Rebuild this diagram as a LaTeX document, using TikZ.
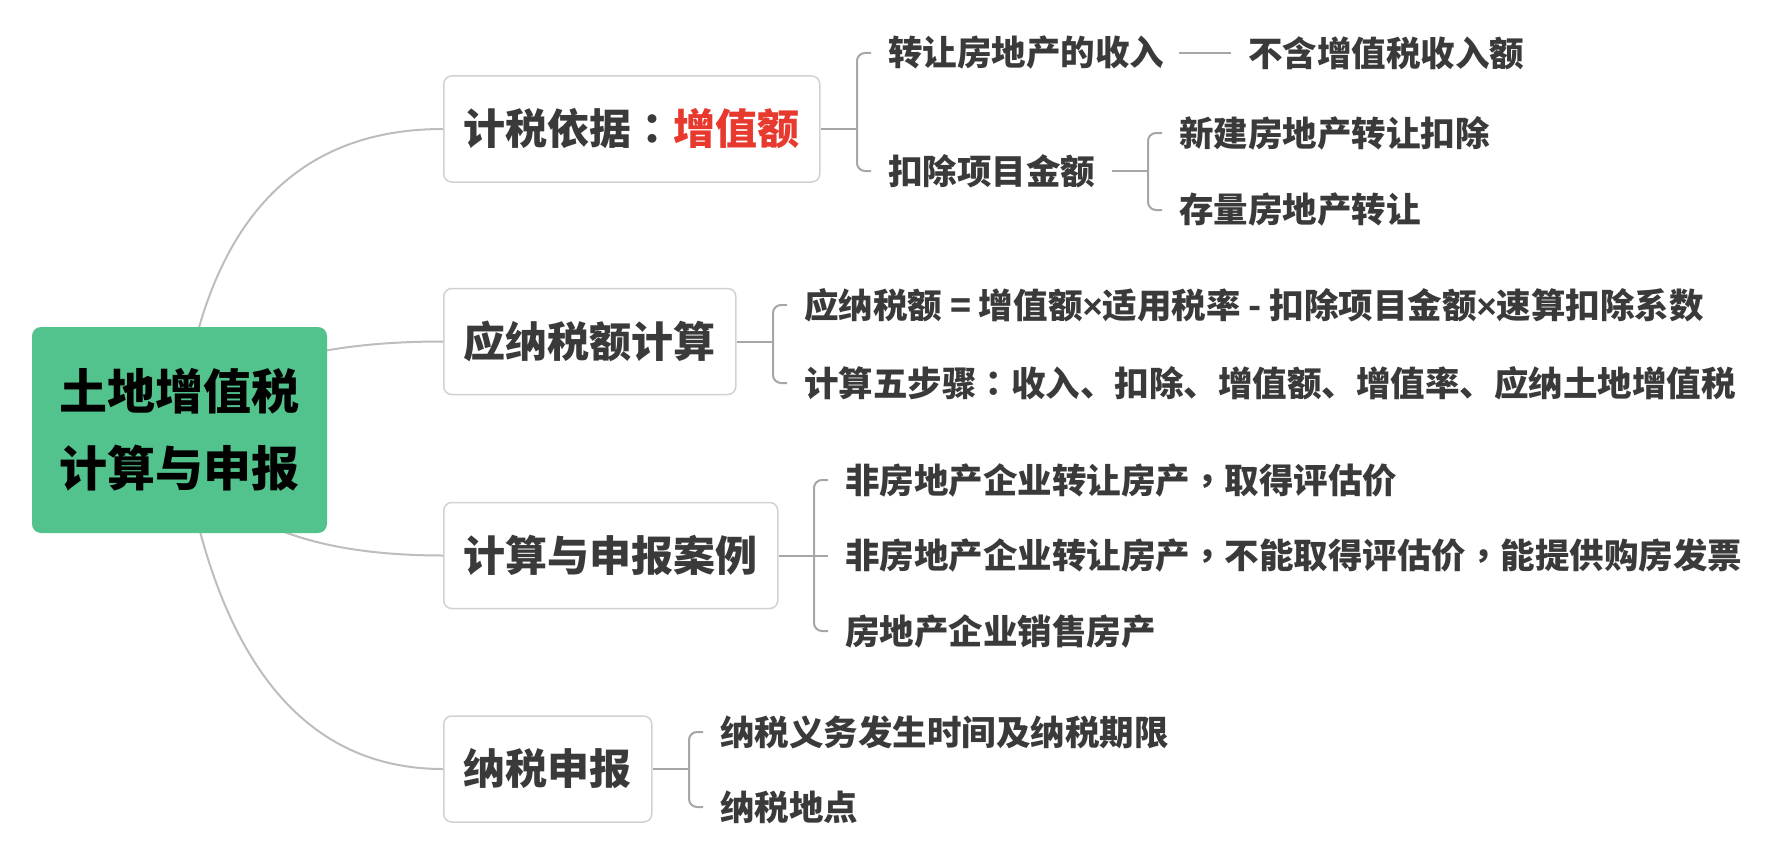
\documentclass[tikz,border=0pt]{standalone}
\usepackage{fontspec}
\setmainfont{Noto Sans CJK SC}
\newfontfamily\tcfont{Noto Sans CJK TC}
\newfontfamily\latinfont{Liberation Sans}
\newcommand{\cpunct}[1]{{\tcfont #1}}
\newcommand{\mtimes}{{\latinfont ×}}
\usetikzlibrary{calc}
\definecolor{rootgreen}{HTML}{52C38C}
\definecolor{txt}{HTML}{3A3A3A}
\definecolor{redt}{HTML}{E8392E}
\definecolor{boxline}{HTML}{D2D2D2}
\definecolor{curveline}{HTML}{BDBDBD}
\definecolor{brline}{HTML}{A6A6A6}
\pgfdeclarelayer{bg}
\pgfsetlayers{bg,main}
\begin{document}
\begin{tikzpicture}[x=1pt,y=-1pt,
  rootbox/.style={fill=rootgreen, rounded corners=9pt, minimum width=295pt, minimum height=206pt, align=center, font=\fontsize{48}{77}\selectfont\bfseries, text=black, inner sep=0pt},
  topic/.style={draw=boxline, line width=1.5pt, fill=white, rounded corners=8pt, anchor=west, minimum height=106pt, inner xsep=20pt, inner ysep=0pt, font=\fontsize{42}{50}\selectfont\bfseries, text=txt},
  leaf/.style={anchor=west, inner sep=0pt, font=\fontsize{34.5}{40}\selectfont\bfseries, text=txt},
  curve/.style={draw=curveline, line width=2pt},
  brk/.style={draw=brline, line width=2pt, rounded corners=8pt},
]
\useasboundingbox (0,0) rectangle (1786,859);

\node[rootbox] (root) at (179.5,430) {土地增值税\\计算与申报};

\node[topic] (b1) at (443,129) {计税依据\cpunct{：}\textcolor{redt}{增值额}};
\node[topic] (b2) at (443,341.5) {应纳税额计算};
\node[topic] (b3) at (443,555.5) {计算与申报案例};
\node[topic] (b4) at (443,769) {纳税申报};

\node[leaf] (t11) at (888,53) {转让房地产的收入};
\node[leaf] (t111) at (1248,53) {不含增值税收入额};
\node[leaf] (t12) at (888,171) {扣除项目金额};
\node[leaf] (t121) at (1179,133) {新建房地产转让扣除};
\node[leaf] (t122) at (1179,210) {存量房地产转让};

\node[leaf] (t21) at (804,305) {应纳税额 = 增值额\mtimes 适用税率 - 扣除项目金额\mtimes 速算扣除系数};
\node[leaf] (t22) at (804,383) {计算五步骤\cpunct{：}收入、扣除、增值额、增值率、应纳土地增值税};

\node[leaf] (t31) at (845,480) {非房地产企业转让房产\cpunct{，}取得评估价};
\node[leaf] (t32) at (845,555.5) {非房地产企业转让房产\cpunct{，}不能取得评估价\cpunct{，}能提供购房发票};
\node[leaf] (t33) at (845,631) {房地产企业销售房产};

\node[leaf] (t41) at (720,732) {纳税义务发生时间及纳税期限};
\node[leaf] (t42) at (720,807) {纳税地点};

\begin{pgfonlayer}{bg}
\draw[curve] (root.center) .. controls (201.7,229.3) and (289.7,129) .. (b1.west);
\draw[curve] (root.center) .. controls (217.7,370.7) and (305.7,341.5) .. (b2.west);
\draw[curve] (root.center) .. controls (205.7,512.7) and (293.7,555.5) .. (b3.west);
\draw[curve] (root.center) .. controls (212.3,655.3) and (300.3,769) .. (b4.west);
\end{pgfonlayer}

% box 1
\draw[brk] (b1.east) -- ($(t11.west)!(b1.east)!(t12.west)+(-31,0)$);
\draw[brk] ($(t11.west)+(-17,0)$) -- ($(t11.west)+(-31,0)$) -- ($(t12.west)+(-31,0)$) -- ($(t12.west)+(-17,0)$);
\draw[brk] ($(t11.east)+(15,0)$) -- ($(t111.west)+(-17,0)$);
\draw[brk] ($(t12.east)+(17,0)$) -- ($(t121.west)!(t12.east)!(t122.west)+(-31,0)$);
\draw[brk] ($(t121.west)+(-17,0)$) -- ($(t121.west)+(-31,0)$) -- ($(t122.west)+(-31,0)$) -- ($(t122.west)+(-17,0)$);

% box 2
\draw[brk] (b2.east) -- ($(t21.west)!(b2.east)!(t22.west)+(-31,0)$);
\draw[brk] ($(t21.west)+(-17,0)$) -- ($(t21.west)+(-31,0)$) -- ($(t22.west)+(-31,0)$) -- ($(t22.west)+(-17,0)$);

% box 3
\draw[brk] (b3.east) -- ($(t32.west)+(-17,0)$);
\draw[brk] ($(t31.west)+(-17,0)$) -- ($(t31.west)+(-31,0)$) -- ($(t33.west)+(-31,0)$) -- ($(t33.west)+(-17,0)$);

% box 4
\draw[brk] (b4.east) -- ($(t41.west)!(b4.east)!(t42.west)+(-31,0)$);
\draw[brk] ($(t41.west)+(-17,0)$) -- ($(t41.west)+(-31,0)$) -- ($(t42.west)+(-31,0)$) -- ($(t42.west)+(-17,0)$);
\end{tikzpicture}
\end{document}
